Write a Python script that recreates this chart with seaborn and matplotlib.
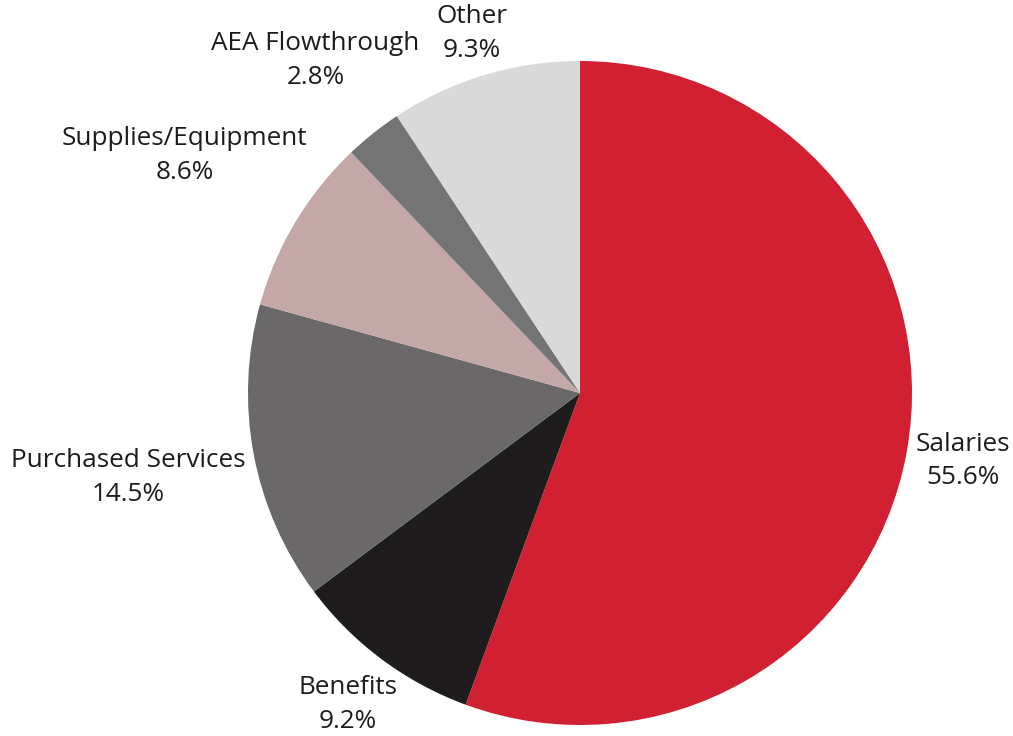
import numpy as np
import matplotlib
matplotlib.use("Agg")
import matplotlib.pyplot as plt
import seaborn as sns

categories = ["Salaries", "Benefits", "Purchased Services",
              "Supplies/Equipment", "AEA Flowthrough", "Other"]
shares = [55.6, 9.2, 14.5, 8.6, 2.8, 9.3]
colors = ["#D12031", "#1E1C1D", "#6A6869", "#C4A7A7", "#747474", "#D9D9D9"]
label_dist = [1.17, 1.17, 1.385, 1.39, 1.28, 1.13]

sns.set_theme(style="white")
plt.rcParams["font.family"] = ["Open Sans", "DejaVu Sans"]

fig = plt.figure(figsize=(10.13, 7.36), dpi=100)
fig.patch.set_facecolor("white")
ax = fig.add_axes([248 / 1013, 11 / 736, 664 / 1013, 664 / 736])

wedges, _ = ax.pie(shares, colors=colors, startangle=90, counterclock=False,
                   radius=1.0, wedgeprops=dict(linewidth=0))
ax.set_xlim(-1, 1)
ax.set_ylim(-1, 1)
ax.set_aspect("equal")
ax.axis("off")

# Two-line category/percentage labels placed along each wedge's mid-angle
for w, name, val, d in zip(wedges, categories, shares, label_dist):
    ang = np.deg2rad((w.theta1 + w.theta2) / 2)
    ax.text(d * np.cos(ang), d * np.sin(ang), f"{name}\n{val:.1f}%",
            ha="center", va="center", fontsize=18.8, color="#1c1c1c",
            linespacing=1.45, clip_on=False)

fig.savefig("out.png", dpi=100, facecolor="white")
